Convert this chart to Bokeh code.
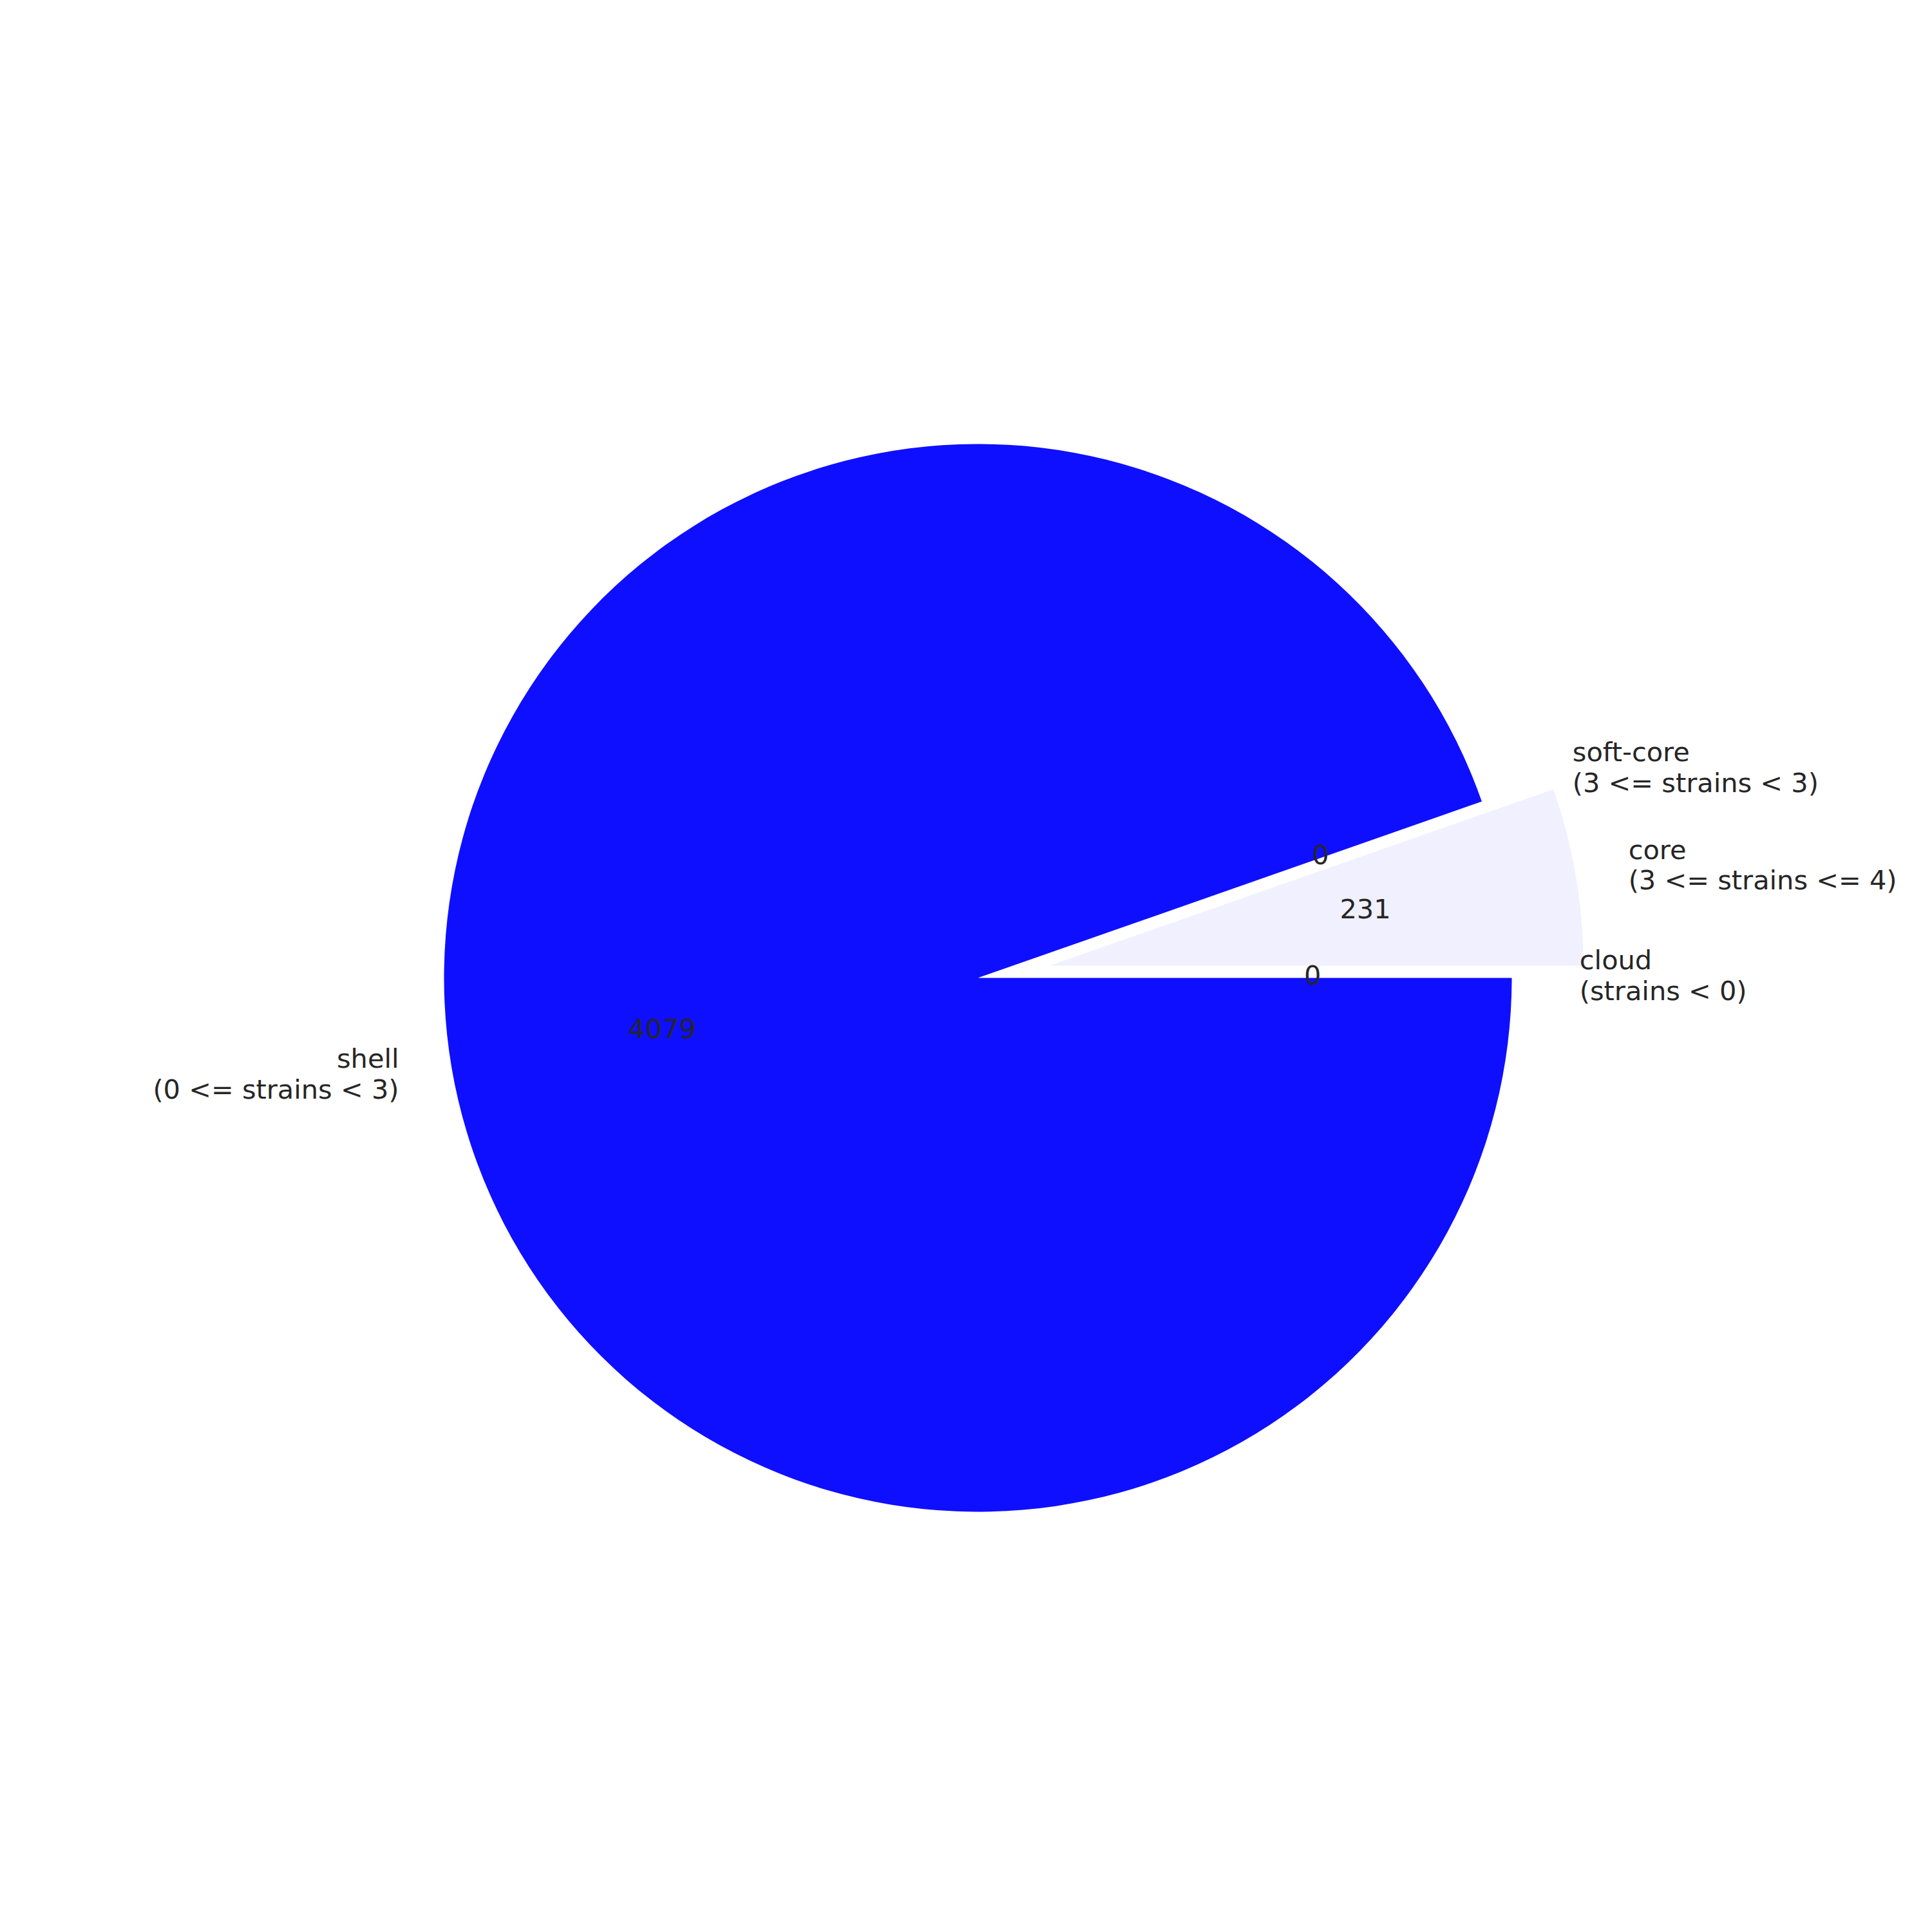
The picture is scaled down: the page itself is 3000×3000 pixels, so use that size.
import numpy as np
from bokeh.plotting import figure
from bokeh.models import ColumnDataSource, Range1d
from bokeh.core.properties import value
from bokeh.embed import file_html
from bokeh.resources import INLINE

# ---- data ----
categories = ["core", "soft-core", "shell", "cloud"]
label_texts = ["core\n(3 <= strains <= 4)",
               "soft-core\n(3 <= strains < 3)",
               "shell\n(0 <= strains < 3)",
               "cloud\n(strains < 0)"]
counts = [231, 0, 4079, 0]
explode = [0.136, 0.08, 0.0, 0.027]
colors = ["#f0f0ff", "#c8c8ff", "#0f0fff", "#e0e0ff"]

# ---- geometry (pie: start angle 0, counter-clockwise) ----
W = H = 2984
scale = 829.0           # pixels per unit radius
cx_px, cy_px = 1518.0, 1518.0   # centre in canvas pixels (from top-left)
label_dist = 1.1
pct_dist = 0.6

vals = np.array(counts, dtype=float)
frac = vals / vals.sum()
ends = np.cumsum(frac) * 2 * np.pi
starts = ends - frac * 2 * np.pi
mids = (starts + ends) / 2
ex = np.array(explode)
xc = ex * np.cos(mids)
yc = ex * np.sin(mids)

nz = vals > 0
wsrc = ColumnDataSource(dict(x=xc[nz], y=yc[nz], s=starts[nz], e=ends[nz],
                             c=[colors[i] for i in range(len(colors)) if nz[i]]))

lx = xc + label_dist * np.cos(mids)
ly = yc + label_dist * np.sin(mids)
right = lx > 0
lsrc_r = ColumnDataSource(dict(x=lx[right], y=ly[right],
                               t=[label_texts[i] for i in range(len(label_texts)) if right[i]]))
lsrc_l = ColumnDataSource(dict(x=lx[~right], y=ly[~right],
                               t=[label_texts[i] for i in range(len(label_texts)) if not right[i]]))

px = xc + pct_dist * np.cos(mids)
py = yc + pct_dist * np.sin(mids)
psrc = ColumnDataSource(dict(x=px, y=py, t=[str(v) for v in counts]))

p = figure(width=W, height=H, output_backend="svg", toolbar_location=None,
           x_range=Range1d(-cx_px / scale, (W - cx_px) / scale),
           y_range=Range1d(-(H - cy_px) / scale, cy_px / scale),
           min_border=0)
p.axis.visible = False
p.grid.visible = False
p.outline_line_color = None
p.background_fill_color = "white"
p.border_fill_color = "white"

p.wedge(x="x", y="y", radius=1.0, start_angle="s", end_angle="e",
        direction="anticlock", fill_color="c", line_color=None, source=wsrc)

font = value("DejaVu Sans")
tcol = "#262626"
fs = "41.5px"
p.text(x="x", y="y", text="t", source=lsrc_r, text_align="left",
       text_baseline="middle", text_font=font, text_font_size=fs,
       text_color=tcol, text_line_height=0.97, y_offset=-4)
p.text(x="x", y="y", text="t", source=lsrc_l, text_align="right",
       text_baseline="middle", text_font=font, text_font_size=fs,
       text_color=tcol, text_line_height=0.97, y_offset=-4)
p.text(x="x", y="y", text="t", source=psrc, text_align="center",
       text_baseline="middle", text_font=font, text_font_size=fs,
       text_color=tcol, y_offset=-5)

open("out.html", "w").write(file_html(p, INLINE))
